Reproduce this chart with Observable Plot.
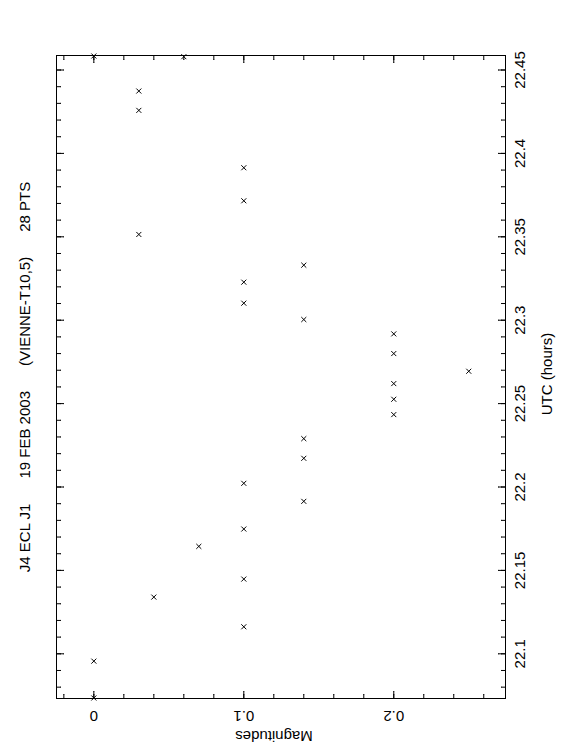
<!DOCTYPE html>
<html>
<head>
<meta charset="utf-8">
<script src="https://cdn.jsdelivr.net/npm/d3@7"></script>
<script src="https://cdn.jsdelivr.net/npm/@observablehq/plot@0.6"></script>
<style>
  html, body { margin: 0; padding: 0; background: #fff; }
  #chart svg { display: block; }
</style>
</head>
<body>
<div id="chart"></div>
<script>
const utcHours = [
  22.4584, 22.4580, 22.4374, 22.4258, 22.3914, 22.3716, 22.3514, 22.3330,
  22.3228, 22.3102, 22.3004, 22.2918, 22.2800, 22.2694, 22.2620, 22.2526,
  22.2434, 22.2290, 22.2172, 22.2022, 22.1914, 22.1748, 22.1644, 22.1448,
  22.1340, 22.1162, 22.0956, 22.0735
];
const magnitudes = [
  0.00, 0.06, 0.03, 0.03, 0.10, 0.10, 0.03, 0.14,
  0.10, 0.10, 0.14, 0.20, 0.20, 0.25, 0.20, 0.20,
  0.20, 0.14, 0.14, 0.10, 0.14, 0.10, 0.07, 0.10,
  0.04, 0.10, 0.00, 0.00
];

const timeMajorTicks = [22.1, 22.15, 22.2, 22.25, 22.3, 22.35, 22.4, 22.45];
const timeTickLabels = ["22.1", "22.15", "22.2", "22.25", "22.3", "22.35", "22.4", "22.45"];
const magMajorTicks = [0, 0.1, 0.2];
const magTickLabels = ["0", "0.1", "0.2"];
const timeMinorTicks = d3.range(8, 46).map(i => +(22 + i / 100).toFixed(2));
const magMinorTicks = d3.range(-1, 14).map(i => +(i * 0.02).toFixed(2));

const titleParts = ["J4 ECL J1", "19 FEB 2003", "(VIENNE-T10,5)", "28 PTS"];
const xLabel = "Magnitudes";
const yLabel = "UTC (hours)";

const points = utcHours.map((t, i) => ({ t, m: magnitudes[i] }));
const sep = "\u00a0".repeat(6);
const font = "'Liberation Sans', Arial, Helvetica, sans-serif";

const tickOpts = { anchor: "start", r: 0, stroke: "#000", strokeWidth: 1 };

const chart = Plot.plot({
  width: 562,
  height: 756,
  marginLeft: 56,
  marginRight: 57,
  marginTop: 55,
  marginBottom: 58,
  style: { fontFamily: font, fontSize: "15px", background: "#fff", color: "#000", overflow: "visible" },
  x: { domain: [-0.0249, 0.2745], axis: null },
  y: { domain: [22.0732, 22.4587], axis: null },
  marks: [
    Plot.frame({ stroke: "#000", strokeWidth: 1 }),
    // minor ticks (inward on all four sides)
    Plot.vector(magMinorTicks, { x: d => d, frameAnchor: "bottom", length: 4, rotate: 0, ...tickOpts }),
    Plot.vector(magMinorTicks, { x: d => d, frameAnchor: "top", length: 4, rotate: 180, ...tickOpts }),
    Plot.vector(timeMinorTicks, { y: d => d, frameAnchor: "left", length: 4, rotate: 90, ...tickOpts }),
    Plot.vector(timeMinorTicks, { y: d => d, frameAnchor: "right", length: 4, rotate: -90, ...tickOpts }),
    // major ticks
    Plot.vector(magMajorTicks, { x: d => d, frameAnchor: "bottom", length: 7, rotate: 0, ...tickOpts }),
    Plot.vector(magMajorTicks, { x: d => d, frameAnchor: "top", length: 7, rotate: 180, ...tickOpts }),
    Plot.vector(timeMajorTicks, { y: d => d, frameAnchor: "left", length: 7, rotate: 90, ...tickOpts }),
    Plot.vector(timeMajorTicks, { y: d => d, frameAnchor: "right", length: 7, rotate: -90, ...tickOpts }),
    // tick labels
    Plot.text(timeMajorTicks, {
      y: d => d, text: (d, i) => timeTickLabels[i], frameAnchor: "right", dx: 15,
      rotate: -90, textAnchor: "middle", lineAnchor: "middle", fill: "#000"
    }),
    Plot.text(magMajorTicks, {
      x: d => d, text: (d, i) => magTickLabels[i], frameAnchor: "bottom", dy: 17,
      rotate: 180, textAnchor: "middle", lineAnchor: "middle", fill: "#000"
    }),
    // axis labels
    Plot.text([yLabel], {
      text: d => d, frameAnchor: "right", dx: 42, dy: -3, rotate: -90,
      textAnchor: "middle", lineAnchor: "middle", fill: "#000"
    }),
    Plot.text([xLabel], {
      text: d => d, frameAnchor: "bottom", dx: -7, dy: 37, rotate: 180,
      textAnchor: "middle", lineAnchor: "middle", fill: "#000"
    }),
    // title
    Plot.text([titleParts.join(sep)], {
      text: d => d, frameAnchor: "left", dx: -31, rotate: -90,
      textAnchor: "middle", lineAnchor: "middle", fill: "#000"
    }),
    // data points
    Plot.dot(points, { x: "m", y: "t", symbol: "times", r: 2.4, stroke: "#000", strokeWidth: 1 })
  ]
});

document.getElementById("chart").appendChild(chart);
</script>
</body>
</html>
